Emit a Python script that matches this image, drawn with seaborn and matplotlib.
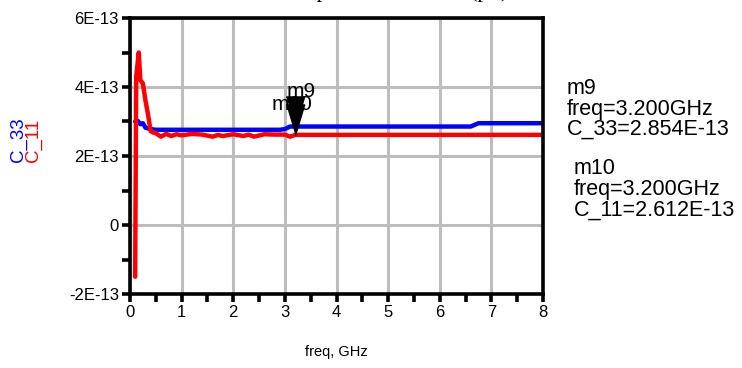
import numpy as np
import pandas as pd
import matplotlib
matplotlib.use("Agg")
import matplotlib.pyplot as plt
import seaborn as sns
from matplotlib.ticker import MultipleLocator, FuncFormatter

# C_33 (azul) e C_11 (vermelho), em unidades de 1E-13 F
freq_33 = [0.10, 0.15, 0.20, 0.25, 0.30, 0.40, 0.50, 1.0, 2.0, 2.9, 3.0, 3.1, 3.2,
           4.0, 5.0, 6.0, 6.6, 6.75, 7.0, 8.0]
c_33 = [3.00, 3.02, 2.92, 2.95, 2.82, 2.78, 2.76, 2.76, 2.76, 2.76, 2.78, 2.854, 2.854,
        2.854, 2.854, 2.854, 2.854, 2.95, 2.95, 2.95]

freq_11 = [0.10, 0.12, 0.17, 0.20, 0.25, 0.30, 0.35, 0.40, 0.45, 0.50, 0.60, 0.70,
           0.80, 0.90, 1.0, 1.2, 1.4, 1.6, 1.7, 1.8, 2.0, 2.2, 2.3, 2.4, 2.6, 2.8,
           3.0, 3.1, 3.2, 4.0, 5.0, 6.0, 7.0, 8.0]
c_11 = [-1.50, 4.30, 5.00, 4.20, 4.10, 3.60, 3.20, 2.72, 2.68, 2.66, 2.56, 2.64,
        2.58, 2.63, 2.60, 2.64, 2.62, 2.56, 2.61, 2.58, 2.63, 2.58, 2.62, 2.56, 2.63, 2.62,
        2.62, 2.56, 2.612, 2.612, 2.612, 2.612, 2.612, 2.612]

marker_freq = 3.2
m9_val = 2.854e-13
m10_val = 2.612e-13

df33 = pd.DataFrame({"freq": freq_33, "C": np.array(c_33) * 1e-13})
df11 = pd.DataFrame({"freq": freq_11, "C": np.array(c_11) * 1e-13})

sns.set_style("white")
plt.rcParams["font.family"] = ["Liberation Sans", "DejaVu Sans"]
plt.rcParams["text.color"] = "black"
plt.rcParams["axes.labelcolor"] = "black"
plt.rcParams["xtick.color"] = "black"
plt.rcParams["ytick.color"] = "black"

fig = plt.figure(figsize=(7.42, 3.68), dpi=100)
ax = fig.add_axes([130 / 742, 1 - 294 / 368, 413 / 742, 276 / 368])

sns.lineplot(data=df33, x="freq", y="C", ax=ax, color="#0000ff", lw=3.2,
             solid_capstyle="round", solid_joinstyle="round")
sns.lineplot(data=df11, x="freq", y="C", ax=ax, color="#ff0000", lw=3.2,
             solid_capstyle="round", solid_joinstyle="round")

ax.set_xlim(0, 8)
ax.set_ylim(-2e-13, 6e-13)
ax.xaxis.set_major_locator(MultipleLocator(1))
ax.xaxis.set_minor_locator(MultipleLocator(0.5))
ax.yaxis.set_major_locator(MultipleLocator(2e-13))
ax.yaxis.set_minor_locator(MultipleLocator(1e-13))


def fmt_y(v, pos):
    n = int(round(v / 1e-13))
    return "0" if n == 0 else f"{n}E-13"


ax.yaxis.set_major_formatter(FuncFormatter(fmt_y))
ax.grid(True, which="major", color="#bdbdbd", lw=2.2)
ax.set_axisbelow(True)
for s in ax.spines.values():
    s.set_color("black")
    s.set_linewidth(2.6)
ax.tick_params(which="both", direction="out", length=6, width=2.6, color="black",
               left=True, bottom=True, labelsize=12, pad=2)

# marcadores m9 / m10
tri = [(-0.9, 3.0), (0.9, 3.0), (0.0, 0.0)]
ax.plot([marker_freq], [m9_val], marker=tri, markersize=44, color="black", lw=0)
ax.plot([marker_freq], [m10_val], marker=tri, markersize=44, color="black", lw=0)
ax.annotate("m9", (marker_freq, m9_val), xytext=(4, 25), textcoords="offset points",
            ha="center", va="center", fontsize=15)
ax.annotate("m10", (marker_freq, m10_val), xytext=(-2, 22), textcoords="offset points",
            ha="center", va="center", fontsize=15)

ax.set_xlabel("freq, GHz", fontsize=10.5, labelpad=18)
ax.set_ylabel("")
fig.text(18 / 742, 1 - 140 / 368, "C_33", color="#0000ff", rotation=90,
         ha="center", va="center", fontsize=13.5)
fig.text(33 / 742, 1 - 140 / 368, "C_11", color="#ff0000", rotation=90,
         ha="center", va="center", fontsize=13.5)

# título cortado no topo
fig.text(400 / 742, 1 + 8 / 368, "Capacitance matrix (pF)", family="Liberation Serif",
         ha="center", va="center", fontsize=16)

txt = dict(fontsize=15.5, ha="left", va="center")
fig.text(567 / 742, 1 - 89 / 368, "m9", **txt)
fig.text(567 / 742, 1 - 109 / 368, "freq=3.200GHz", **txt)
fig.text(567 / 742, 1 - 129 / 368, "C_33=2.854E-13", **txt)
fig.text(574 / 742, 1 - 168 / 368, "m10", **txt)
fig.text(574 / 742, 1 - 189 / 368, "freq=3.200GHz", **txt)
fig.text(574 / 742, 1 - 210 / 368, "C_11=2.612E-13", **txt)

fig.savefig("out.png", dpi=100)
